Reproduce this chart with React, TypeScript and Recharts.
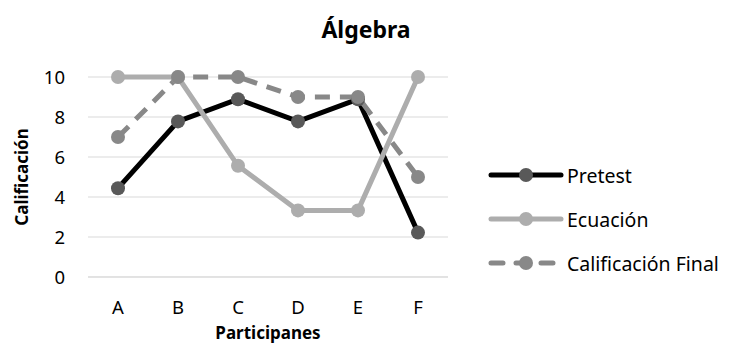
import { CartesianGrid, Line, LineChart, XAxis, YAxis } from 'recharts';

const categories = ['A', 'B', 'C', 'D', 'E', 'F'];
const pretest = [4.44, 7.78, 8.89, 7.78, 8.89, 2.22];
const ecuacion = [10, 10, 5.56, 3.33, 3.33, 10];
const calificacionFinal = [7, 10, 10, 9, 9, 5];
const yTicks = [0, 2, 4, 6, 8, 10];

const data = categories.map((cat, i) => ({
  cat,
  pretest: pretest[i],
  ecuacion: ecuacion[i],
  final: calificacionFinal[i],
}));

const FONT = '"Noto Sans", "Open Sans", sans-serif';

const series = [
  { key: 'pretest', name: 'Pretest', stroke: '#000000', dot: '#595959', dash: undefined },
  { key: 'ecuacion', name: 'Ecuación', stroke: '#adadad', dot: '#adadad', dash: undefined },
  { key: 'final', name: 'Calificación Final', stroke: '#888888', dot: '#888888', dash: '15 10' },
];

function ChartLegend() {
  return (
    <div style={{ position: 'absolute', left: 488, top: 153, fontFamily: FONT, fontSize: 19.5, color: '#000' }}>
      {series.map((s) => (
        <div key={s.key} style={{ display: 'flex', alignItems: 'center', height: 44 }}>
          <svg width={76} height={16}>
            <line
              x1={3}
              y1={8}
              x2={73}
              y2={8}
              stroke={s.stroke}
              strokeWidth={5}
              strokeLinecap="round"
              strokeDasharray={s.dash ? '12 13' : undefined}
            />
            <circle cx={38} cy={8} r={7} fill={s.dot} />
          </svg>
          <span style={{ marginLeft: 3 }}>{s.name}</span>
        </div>
      ))}
    </div>
  );
}

export default function App() {
  return (
    <div style={{ position: 'absolute', left: 0, top: 0, width: 732, height: 356, background: '#fff' }}>
      <div
        style={{
          position: 'absolute',
          left: 0,
          top: 14,
          width: 732,
          textAlign: 'center',
          fontFamily: FONT,
          fontWeight: 700,
          fontSize: 23,
          lineHeight: '30px',
        }}
      >
        Álgebra
      </div>
      <LineChart width={732} height={356} data={data} margin={{ top: 77, right: 284, bottom: 0, left: 0 }}>
        <CartesianGrid stroke="#d9d9d9" vertical={false} />
        <XAxis
          dataKey="cat"
          height={79}
          padding={{ left: 30, right: 30 }}
          tickLine={false}
          axisLine={{ stroke: '#d9d9d9' }}
          tickMargin={18}
          tick={{ fill: '#000', fontSize: 18.5, fontFamily: FONT }}
          label={({ viewBox }: any) => (
            <text
              x={viewBox.x + viewBox.width / 2}
              y={339}
              textAnchor="middle"
              fill="#000"
              fontSize={17}
              fontWeight={700}
              fontFamily={FONT}
            >
              Participanes
            </text>
          )}
        />
        <YAxis
          width={88}
          domain={[0, 10]}
          ticks={yTicks}
          tickLine={false}
          axisLine={false}
          tickMargin={17}
          tick={{ fill: '#000', fontSize: 18.5, fontFamily: FONT }}
          label={({ viewBox }: any) => {
            const cy = viewBox.y + viewBox.height / 2;
            return (
              <text
                x={21}
                y={cy}
                transform={`rotate(-90, 21, ${cy})`}
                textAnchor="middle"
                dominantBaseline="central"
                fill="#000"
                fontSize={17}
                fontWeight={700}
                fontFamily={FONT}
              >
                Calificación
              </text>
            );
          }}
        />
        {series.map((s) => (
          <Line
            key={s.key}
            type="linear"
            dataKey={s.key}
            name={s.name}
            stroke={s.stroke}
            strokeWidth={5}
            strokeDasharray={s.dash}
            dot={{ r: 7, fill: s.dot, stroke: 'none' }}
            activeDot={false}
            isAnimationActive={false}
          />
        ))}
      </LineChart>
      <ChartLegend />
    </div>
  );
}
